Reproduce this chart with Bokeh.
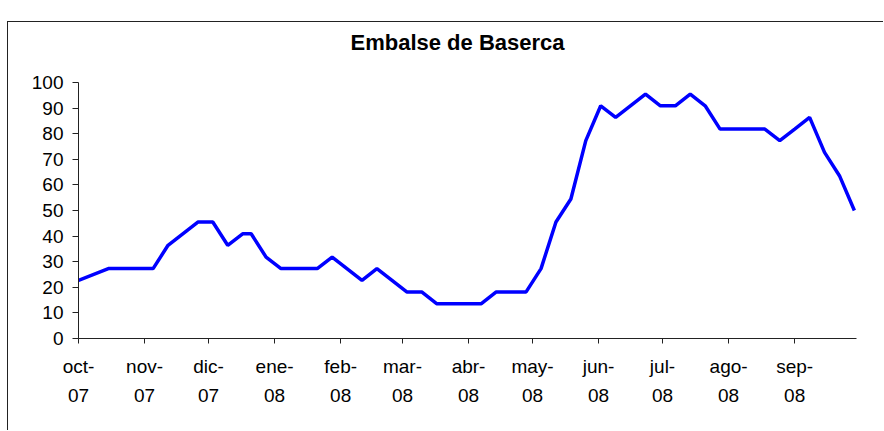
import pandas as pd
from bokeh.plotting import figure
from bokeh.models import FixedTicker, Spacer, Range1d, ColumnDataSource, Title
from bokeh.layouts import column, row
from bokeh.embed import file_html
from bokeh.resources import INLINE

# ---- data ----
dates = ["2007-10-01", "2007-10-15", "2007-10-22", "2007-10-29", "2007-11-05",
         "2007-11-12", "2007-11-26", "2007-12-03", "2007-12-10", "2007-12-17",
         "2007-12-21", "2007-12-28", "2008-01-04", "2008-01-14", "2008-01-21",
         "2008-01-28", "2008-02-11", "2008-02-18", "2008-03-03", "2008-03-10",
         "2008-03-17", "2008-03-24", "2008-03-31", "2008-04-07", "2008-04-14",
         "2008-04-21", "2008-04-28", "2008-05-05", "2008-05-12", "2008-05-19",
         "2008-05-26", "2008-06-02", "2008-06-09", "2008-06-23", "2008-06-30",
         "2008-07-07", "2008-07-14", "2008-07-21", "2008-07-28", "2008-08-04",
         "2008-08-11", "2008-08-18", "2008-08-25", "2008-09-01", "2008-09-08",
         "2008-09-15", "2008-09-22", "2008-09-29"]
values = [22.7, 27.3, 27.3, 27.3, 27.3, 36.4, 45.5, 45.5, 36.4, 40.9,
          40.9, 31.8, 27.3, 27.3, 27.3, 31.8, 22.7, 27.3, 18.2, 18.2,
          13.6, 13.6, 13.6, 13.6, 18.2, 18.2, 18.2, 27.3, 45.5, 54.5,
          77.3, 90.9, 86.4, 95.5, 90.9, 90.9, 95.5, 90.9, 81.8, 81.8,
          81.8, 81.8, 77.3, 81.8, 86.4, 72.7, 63.6, 50.0]
month_starts = ["2007-10-01", "2007-11-01", "2007-12-01", "2008-01-01",
                "2008-02-01", "2008-03-01", "2008-04-01", "2008-05-01",
                "2008-06-01", "2008-07-01", "2008-08-01", "2008-09-01"]
month_labels = ["oct-\n07", "nov-\n07", "dic-\n07", "ene-\n08", "feb-\n08",
                "mar-\n08", "abr-\n08", "may-\n08", "jun-\n08", "jul-\n08",
                "ago-\n08", "sep-\n08"]
y_ticks = [0, 10, 20, 30, 40, 50, 60, 70, 80, 90, 100]
title_text = "Embalse de Baserca"

def ms(d):
    return float(pd.Timestamp(d).value // 10**6)

src = ColumnDataSource(dict(x=pd.to_datetime(dates), y=values))

FONT = "Liberation Sans"

p = figure(x_axis_type="datetime",
           x_range=Range1d(ms("2007-10-01"), ms("2008-09-30")),
           y_range=Range1d(0, 100),
           frame_width=777, frame_height=255,
           min_border_left=70, min_border_right=28,
           min_border_top=60, min_border_bottom=93,
           output_backend="svg", toolbar_location=None)

p.line("x", "y", source=src, line_color="#0000FF", line_width=3.5)

p.outline_line_color = None
p.xgrid.visible = False
p.ygrid.visible = False
p.background_fill_color = "white"
p.border_fill_color = "white"

# blank spacer between title and frame
p.add_layout(Title(text=" ", text_font_size="1px", standoff=23), "above")

# title
p.title.text = title_text
p.title.text_font = FONT
p.title.text_font_size = "22px"
p.title.text_font_style = "bold"
p.title.text_color = "black"
p.title.align = "left"
p.title.offset = 272
p.title.standoff = 4

# axes
for ax in (p.xaxis[0], p.yaxis[0]):
    ax.axis_line_color = "#222222"
    ax.axis_line_width = 1
    ax.major_tick_line_color = "#222222"
    ax.minor_tick_line_color = None
    ax.major_tick_in = 0
    ax.major_label_text_font = FONT
    ax.major_label_text_font_size = "19px"
    ax.major_label_text_color = "black"

p.yaxis[0].ticker = FixedTicker(ticks=y_ticks)
p.yaxis[0].major_tick_out = 6
p.yaxis[0].major_label_standoff = 9

p.xaxis[0].ticker = FixedTicker(ticks=[ms(d) for d in month_starts])
p.xaxis[0].major_label_overrides = {ms(d): lab for d, lab in zip(month_starts, month_labels)}
p.xaxis[0].major_tick_out = 5
p.xaxis[0].major_label_standoff = 12
p.xaxis[0].major_label_text_line_height = 1.4

p.styles = {"border-left": "1px solid #222222", "border-top": "1px solid #222222"}

layout = row(Spacer(width=7, height=10), column(Spacer(height=21, width=10), p))

open("out.html", "w").write(file_html(layout, INLINE))
